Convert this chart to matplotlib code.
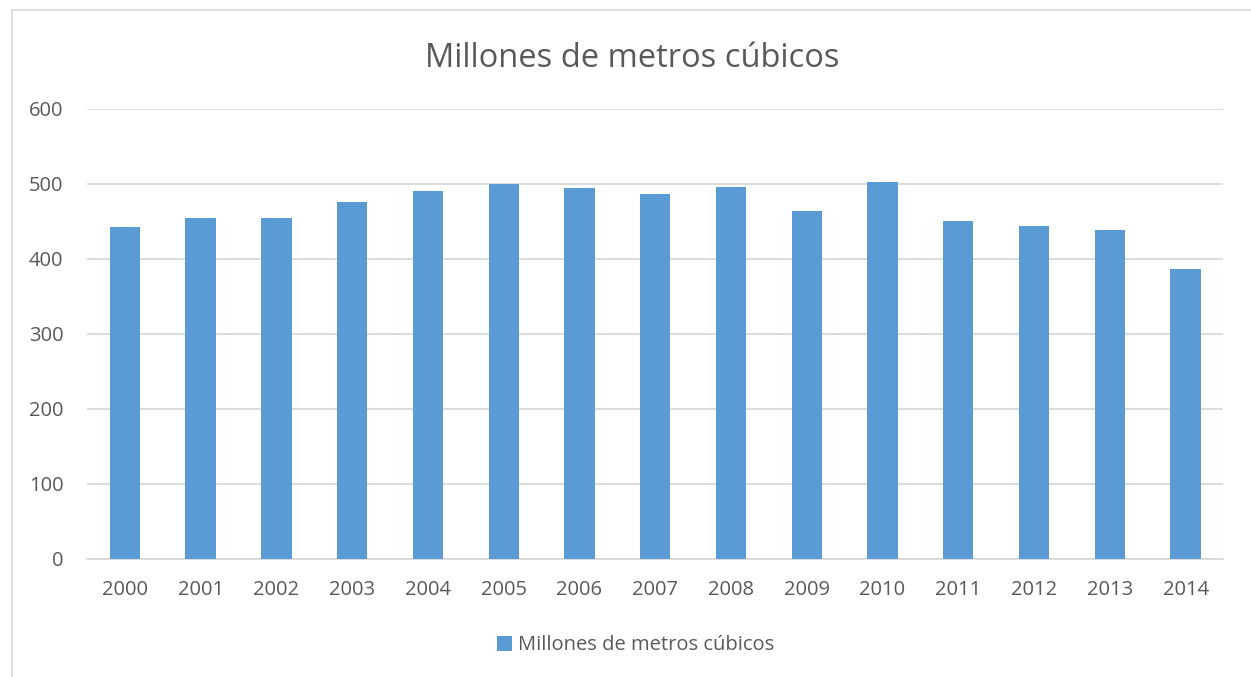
import matplotlib
matplotlib.use('Agg')
import matplotlib.pyplot as plt
import numpy as np
from matplotlib.patches import Rectangle

years = ['2000', '2001', '2002', '2003', '2004', '2005', '2006', '2007',
         '2008', '2009', '2010', '2011', '2012', '2013', '2014']
values = [442, 454, 454, 476, 491, 500, 495, 487, 496, 464, 502, 451, 444, 438, 386]
serie = 'Millones de metros cúbicos'

plt.rcParams['font.family'] = ['Open Sans', 'DejaVu Sans']
gris = '#595959'
azul = '#5B9BD5'

fig = plt.figure(figsize=(12.51, 6.77), dpi=100)
ax = fig.add_axes([0.0695, 0.1743, 0.9085, 0.6647])

x = np.arange(len(years))
ax.bar(x, values, width=0.4, color=azul, label=serie, zorder=3)

ax.set_xlim(-0.5, len(years) - 0.5)
ax.set_ylim(0, 600)
ax.set_yticks(np.arange(0, 601, 100))
ax.set_xticks(x)
ax.set_xticklabels(years)
ax.yaxis.grid(True, color='#D9D9D9', linewidth=1.3, zorder=0)
ax.tick_params(axis='both', length=0, labelsize=14.5, colors=gris)
ax.tick_params(axis='x', pad=15)
ax.tick_params(axis='y', pad=17)
for s in ['top', 'right', 'left']:
    ax.spines[s].set_visible(False)
ax.spines['bottom'].set_color('#D9D9D9')
ax.spines['bottom'].set_linewidth(1.3)

fig.text(0.505, 0.914, serie, ha='center', va='center', fontsize=23.5, color=gris)

leg = fig.legend(loc='center', bbox_to_anchor=(0.508, 0.047), frameon=False,
                 fontsize=14.5, handlelength=0.75, handleheight=0.75, handletextpad=0.3)
for t in leg.get_texts():
    t.set_color(gris)

# marco exterior del grafico
fig.patches.append(Rectangle((12 / 1251, -0.05), 1.1, 1 - 10 / 677 + 0.05,
                             transform=fig.transFigure, fill=False,
                             edgecolor='#D9D9D9', linewidth=1.2))

fig.savefig('out.png', dpi=100)
